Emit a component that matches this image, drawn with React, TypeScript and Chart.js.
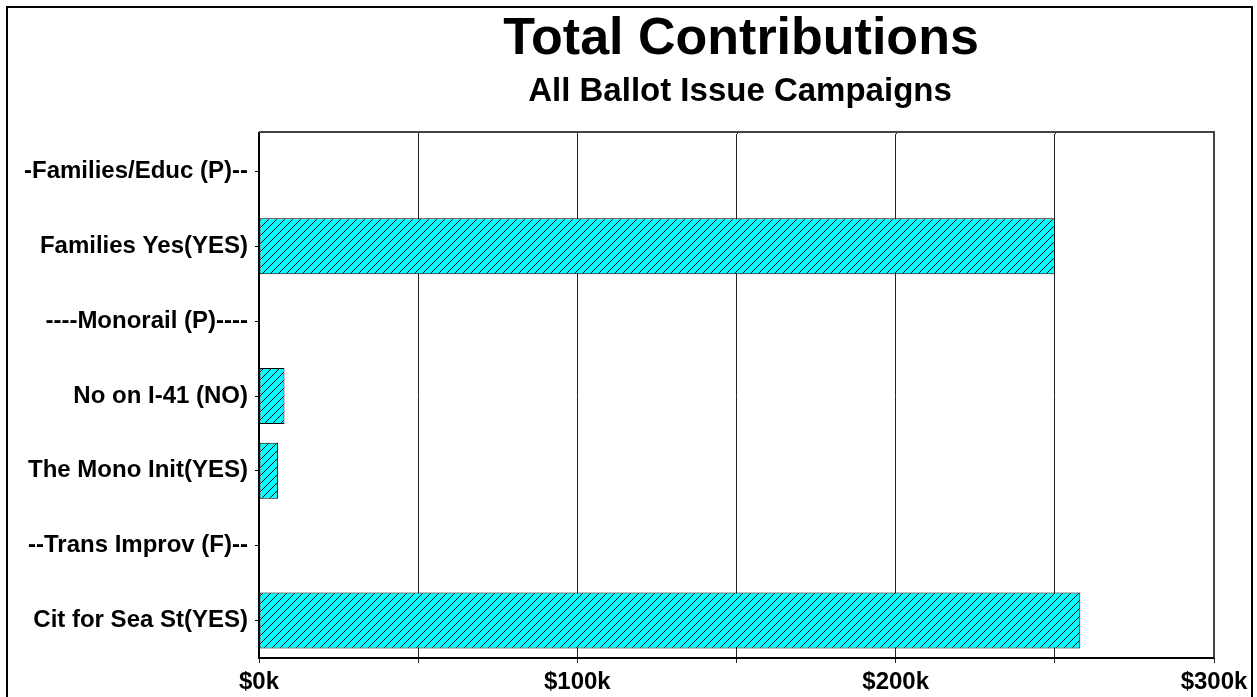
import React, { useEffect, useRef } from "react";
import { Chart, registerables } from "chart.js";

Chart.register(...registerables);

const categories = [
  "-Families/Educ (P)--",
  "Families Yes(YES)",
  "----Monorail (P)----",
  "No on I-41 (NO)",
  "The Mono Init(YES)",
  "--Trans Improv (F)--",
  "Cit for Sea St(YES)",
];
const contributions = [0, 250000, 0, 8000, 6000, 0, 258000];
const xTickValues = [0, 100000, 200000, 300000];
const titleText = "Total Contributions";
const subtitleText = "All Ballot Issue Campaigns";

function makeHatch(): CanvasPattern | string {
  const c = document.createElement("canvas");
  c.width = 8;
  c.height = 8;
  const g = c.getContext("2d");
  if (!g) return "#00ffff";
  g.fillStyle = "#00ffff";
  g.fillRect(0, 0, 8, 8);
  g.strokeStyle = "#000000";
  g.lineWidth = 1;
  g.beginPath();
  g.moveTo(-1, 9);
  g.lineTo(9, -1);
  g.moveTo(-1, 1);
  g.lineTo(1, -1);
  g.moveTo(7, 9);
  g.lineTo(9, 7);
  g.stroke();
  const p = g.createPattern(c, "repeat");
  return p || "#00ffff";
}

const FRAME_TOP = 132;

const decorPlugin = {
  id: "decor",
  afterDraw(chart: any) {
    const ctx = chart.ctx;
    const a = chart.chartArea;
    const xs = chart.scales.x;
    ctx.save();
    // outer frame
    ctx.strokeStyle = "#000";
    ctx.lineWidth = 2;
    ctx.strokeRect(7, 7, 1245, 700);
    // extend gridlines up to frame top
    ctx.strokeStyle = "#222";
    ctx.lineWidth = 1;
    for (let v = 50000; v < 300000; v += 50000) {
      const px = Math.round(xs.getPixelForValue(v)) + 0.5;
      ctx.beginPath();
      ctx.moveTo(px, FRAME_TOP);
      ctx.lineTo(px, a.top);
      ctx.stroke();
    }
    // left axis extension
    ctx.strokeStyle = "#000";
    ctx.lineWidth = 2;
    ctx.beginPath();
    ctx.moveTo(a.left, FRAME_TOP);
    ctx.lineTo(a.left, a.top + 1);
    ctx.stroke();
    // plot frame top/right
    ctx.strokeStyle = "#444";
    ctx.lineWidth = 2;
    ctx.beginPath();
    ctx.moveTo(a.left, FRAME_TOP);
    ctx.lineTo(a.right, FRAME_TOP);
    ctx.lineTo(a.right, a.bottom);
    ctx.stroke();
    // titles
    ctx.fillStyle = "#000";
    ctx.textAlign = "center";
    ctx.textBaseline = "alphabetic";
    ctx.font = "bold 52px 'Liberation Sans', Arial, sans-serif";
    ctx.fillText(titleText, 741, 54);
    ctx.font = "bold 33px 'Liberation Sans', Arial, sans-serif";
    ctx.fillText(subtitleText, 740, 101);
    ctx.restore();
  },
};

export default function App() {
  const ref = useRef<HTMLCanvasElement>(null);
  useEffect(() => {
    if (!ref.current) return;
    const hatch = makeHatch();
    const chart = new Chart(ref.current, {
      type: "bar",
      data: {
        labels: categories,
        datasets: [
          {
            data: contributions,
            backgroundColor: hatch as any,
            borderColor: "#000",
            borderWidth: 1,
            borderSkipped: false,
            barPercentage: 0.748,
            categoryPercentage: 1,
          },
        ],
      },
      options: {
        indexAxis: "y",
        responsive: false,
        animation: false,
        devicePixelRatio: 1,
        layout: { padding: { left: 0, top: 134, right: 43, bottom: 0 } },
        plugins: {
          legend: { display: false },
          tooltip: { enabled: false },
          title: { display: false },
        },
        scales: {
          x: {
            type: "linear",
            min: 0,
            max: 300000,
            afterFit: (s: any) => {
              s.height = 39;
            },
            afterBuildTicks: (s: any) => {
              const vals: number[] = [];
              for (let v = 0; v <= 300000; v += 50000) vals.push(v);
              s.ticks = vals.map((v) => ({ value: v }));
            },
            ticks: {
              autoSkip: false,
              maxRotation: 0,
              padding: 5,
              color: "#000",
              font: { family: "'Liberation Sans', Arial, sans-serif", size: 24, weight: "bold" },
              callback: (v: any) =>
                xTickValues.includes(Number(v)) ? "$" + Number(v) / 1000 + "k" : "",
            },
            grid: {
              color: "#222",
              lineWidth: 1,
              tickLength: 5,
              drawTicks: true,
            },
            border: { display: true, color: "#000", width: 2 },
          },
          y: {
            afterFit: (s: any) => {
              s.width = 259;
            },
            ticks: {
              padding: 7,
              color: "#000",
              font: { family: "'Liberation Sans', Arial, sans-serif", size: 24, weight: "bold" },
            },
            grid: {
              display: true,
              drawOnChartArea: false,
              drawTicks: true,
              tickLength: 4,
              offset: false,
              color: "#000",
            },
            border: { display: true, color: "#000", width: 2 },
          },
        },
      },
      plugins: [decorPlugin],
    });
    return () => chart.destroy();
  }, []);
  return (
    <div style={{ position: "absolute", left: 0, top: 0, width: 1257, height: 697, background: "#fff" }}>
      <canvas ref={ref} width={1257} height={697} style={{ display: "block" }} />
    </div>
  );
}
